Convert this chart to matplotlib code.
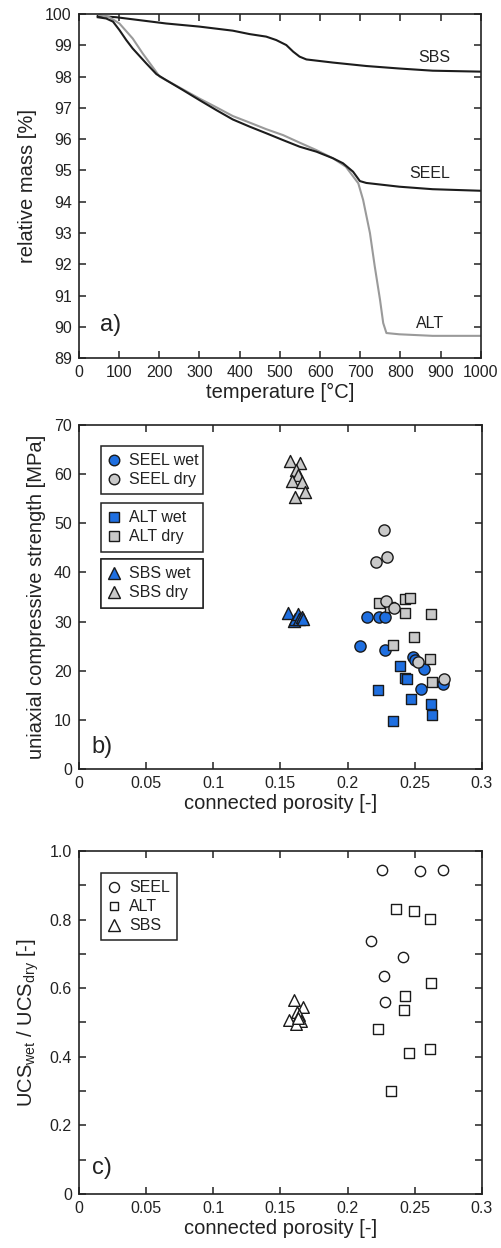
import matplotlib
matplotlib.use("Agg")
import matplotlib.pyplot as plt
from matplotlib.ticker import MultipleLocator
from matplotlib.lines import Line2D

plt.rcParams['font.family'] = ['Liberation Sans', 'DejaVu Sans']
plt.rcParams['mathtext.fontset'] = 'custom'
plt.rcParams['mathtext.rm'] = 'Liberation Sans'
plt.rcParams['text.color'] = '#222222'
plt.rcParams['axes.labelcolor'] = '#222222'
plt.rcParams['xtick.color'] = '#222222'
plt.rcParams['ytick.color'] = '#222222'

# ========== a) TGA curves ==========
sbs_T = [47, 93, 217, 300, 383, 425, 466, 491, 516, 533, 549, 566, 632, 715, 797, 880, 1000]
sbs_m = [99.94, 99.9, 99.7, 99.6, 99.47, 99.36, 99.28, 99.17, 99.01, 98.8, 98.64, 98.55,
         98.45, 98.34, 98.26, 98.19, 98.16]

seel_T = [47, 68, 85, 101, 118, 134, 168, 193, 217, 259, 300, 342, 383, 425, 466, 508,
          549, 591, 632, 657, 682, 699, 715, 797, 880, 1000]
seel_m = [99.9, 99.86, 99.76, 99.49, 99.17, 98.9, 98.42, 98.08, 97.89, 97.57, 97.25, 96.93,
          96.63, 96.4, 96.19, 95.97, 95.76, 95.6, 95.39, 95.23, 94.96, 94.66, 94.6, 94.48,
          94.4, 94.35]

alt_T = [51, 76, 101, 134, 159, 184, 201, 234, 300, 342, 383, 425, 466, 508, 549, 591,
         632, 664, 695, 707, 724, 736, 749, 757, 765, 797, 880, 1000]
alt_m = [99.97, 99.9, 99.7, 99.22, 98.74, 98.3, 98.0, 97.77, 97.3, 97.02, 96.74, 96.53,
         96.32, 96.13, 95.89, 95.65, 95.39, 95.12, 94.59, 94.06, 93.0, 91.93, 90.87, 90.12,
         89.8, 89.76, 89.71, 89.71]

# ========== b) UCS vs porosity ==========
seel_wet_phi = [0.2147, 0.2234, 0.2277, 0.2091, 0.2277, 0.2485, 0.2503, 0.2568, 0.2548, 0.2711]
seel_wet_ucs = [31.0, 31.0, 31.0, 25.1, 24.2, 22.7, 22.2, 20.3, 16.2, 17.3]
seel_dry_phi = [0.2272, 0.2209, 0.229, 0.2284, 0.2347, 0.2523, 0.2718]
seel_dry_ucs = [48.6, 42.2, 43.2, 34.1, 32.7, 21.7, 18.3]

alt_wet_phi = [0.2388, 0.2425, 0.2443, 0.223, 0.2475, 0.2618, 0.2625, 0.2338]
alt_wet_ucs = [20.9, 18.6, 18.3, 16.1, 14.3, 13.3, 10.9, 9.8]
alt_dry_phi = [0.2233, 0.2318, 0.243, 0.2463, 0.243, 0.2618, 0.2495, 0.2338, 0.2615, 0.2625]
alt_dry_ucs = [33.7, 32.9, 34.6, 34.8, 31.7, 31.5, 26.8, 25.3, 22.4, 17.7]

sbs_wet_phi = [0.156, 0.160, 0.161, 0.163, 0.164, 0.166, 0.167]
sbs_wet_ucs = [31.8, 30.1, 30.6, 31.5, 30.6, 30.9, 30.5]
sbs_dry_phi = [0.157, 0.1645, 0.1615, 0.163, 0.159, 0.166, 0.168, 0.161]
sbs_dry_ucs = [62.7, 62.3, 60.8, 59.9, 58.7, 58.4, 56.4, 55.3]

# ========== c) UCS ratio ==========
seel_r_phi = [0.2253, 0.254, 0.2708, 0.2175, 0.2413, 0.2268, 0.2275]
seel_r = [0.946, 0.941, 0.946, 0.737, 0.691, 0.635, 0.559]
alt_r_phi = [0.2358, 0.2493, 0.2613, 0.2623, 0.2428, 0.2423, 0.2225, 0.246, 0.2613, 0.2323]
alt_r = [0.830, 0.825, 0.803, 0.615, 0.577, 0.536, 0.482, 0.410, 0.422, 0.299]
sbs_r_phi = [0.160, 0.167, 0.1625, 0.164, 0.1565, 0.165, 0.1618, 0.163]
sbs_r = [0.565, 0.545, 0.532, 0.522, 0.508, 0.503, 0.495, 0.512]

por_ticks = [0, 0.05, 0.1, 0.15, 0.2, 0.25, 0.3]
por_labels = ['0', '0.05', '0.1', '0.15', '0.2', '0.25', '0.3']
ratio_ticks = [0, 0.2, 0.4, 0.6, 0.8, 1.0]
ratio_labels = ['0', '0.2', '0.4', '0.6', '0.8', '1.0']

blue = '#1f6fe0'
grey = '#c9c9c9'
edge = '#1a1a1a'
TICK_FS = 11.5
LAB_FS = 14.5


def style_axes(ax):
    for s in ax.spines.values():
        s.set_linewidth(1.2)
        s.set_color('#222222')
    ax.tick_params(which='both', direction='in', top=True, right=True,
                   length=5, width=1.1, labelsize=TICK_FS, pad=5)


fig = plt.figure(figsize=(5.02, 12.48), dpi=100)
ax1 = fig.add_axes([0.157, 0.7131, 0.801, 0.2756])
ax2 = fig.add_axes([0.157, 0.3838, 0.803, 0.2756])
ax3 = fig.add_axes([0.157, 0.0433, 0.803, 0.2748])

# ---- a)
ax1.plot(sbs_T, sbs_m, color='#1c1c1c', lw=1.5)
ax1.plot(alt_T, alt_m, color='#9a9a9a', lw=1.5)
ax1.plot(seel_T, seel_m, color='#1c1c1c', lw=1.5)
ax1.set_xlim(0, 1000)
ax1.set_ylim(89, 100)
ax1.xaxis.set_major_locator(MultipleLocator(100))
ax1.yaxis.set_major_locator(MultipleLocator(1))
ax1.set_xlabel('temperature [°C]', fontsize=LAB_FS, labelpad=2)
ax1.set_ylabel('relative mass [%]', fontsize=LAB_FS, labelpad=6)
ax1.text(885, 98.6, 'SBS', ha='center', va='center', fontsize=11.5)
ax1.text(873, 94.9, 'SEEL', ha='center', va='center', fontsize=11.5)
ax1.text(873, 90.1, 'ALT', ha='center', va='center', fontsize=11.5)
ax1.text(52, 90.05, 'a)', ha='left', va='center', fontsize=17)
style_axes(ax1)

# ---- b)
mk = dict(edgecolors=edge, linewidths=1.0)
ax2.scatter(seel_wet_phi, seel_wet_ucs, marker='o', s=65, c=blue, zorder=3, **mk)
ax2.scatter(alt_wet_phi, alt_wet_ucs, marker='s', s=48, c=blue, zorder=3, **mk)
ax2.scatter(sbs_wet_phi, sbs_wet_ucs, marker='^', s=75, c=blue, zorder=3, **mk)
ax2.scatter(alt_dry_phi, alt_dry_ucs, marker='s', s=48, c=grey, zorder=4, **mk)
ax2.scatter(seel_dry_phi, seel_dry_ucs, marker='o', s=65, c=grey, zorder=4, **mk)
ax2.scatter(sbs_dry_phi, sbs_dry_ucs, marker='^', s=75, c=grey, zorder=4, **mk)
ax2.set_xlim(0, 0.3)
ax2.set_ylim(0, 70)
ax2.set_xticks(por_ticks)
ax2.set_xticklabels(por_labels)
ax2.yaxis.set_major_locator(MultipleLocator(10))
ax2.set_xlabel('connected porosity [-]', fontsize=LAB_FS, labelpad=2)
ax2.set_ylabel('uniaxial compressive strength [MPa]', fontsize=LAB_FS, labelpad=6)
ax2.text(0.0095, 4.5, 'b)', ha='left', va='center', fontsize=17)
style_axes(ax2)


def handle(marker, fc, ms):
    return Line2D([], [], ls='none', marker=marker, markersize=ms,
                  markerfacecolor=fc, markeredgecolor=edge, markeredgewidth=1.0)


leg_kw = dict(loc='upper left', fontsize=11.5, frameon=True, fancybox=False,
              edgecolor='#222222', framealpha=1, borderaxespad=0,
              handlelength=0.8, handletextpad=0.5, borderpad=0.45,
              labelspacing=0.25)
groups = [
    ([handle('o', blue, 7.6), handle('o', grey, 7.6)], ['SEEL wet', 'SEEL dry'], 0.939),
    ([handle('s', blue, 6.6), handle('s', grey, 6.6)], ['ALT wet', 'ALT dry'], 0.773),
    ([handle('^', blue, 8.5), handle('^', grey, 8.5)], ['SBS wet', 'SBS dry'], 0.610),
]
for hs, labs, top in groups:
    lg = ax2.legend(hs, labs, bbox_to_anchor=(0.0546, top - 0.14, 0.253, 0.14),
                    mode='expand', **leg_kw)
    lg.get_frame().set_linewidth(1.1)
    ax2.add_artist(lg)

# ---- c)
ax3.scatter(seel_r_phi, seel_r, marker='o', s=55, facecolors='white', **mk)
ax3.scatter(alt_r_phi, alt_r, marker='s', s=44, facecolors='white', **mk)
ax3.scatter(sbs_r_phi, sbs_r, marker='^', s=70, facecolors='white', **mk)
ax3.set_xlim(0, 0.3)
ax3.set_ylim(0, 1.0)
ax3.set_xticks(por_ticks)
ax3.set_xticklabels(por_labels)
ax3.set_yticks(ratio_ticks)
ax3.set_yticklabels(ratio_labels)
ax3.yaxis.set_minor_locator(MultipleLocator(0.1))
ax3.set_xlabel('connected porosity [-]', fontsize=LAB_FS, labelpad=2)
ax3.set_ylabel('UCS$_{\\mathrm{wet}}$ / UCS$_{\\mathrm{dry}}$ [-]', fontsize=LAB_FS, labelpad=6)
ax3.text(0.0095, 0.075, 'c)', ha='left', va='center', fontsize=17)
style_axes(ax3)
lg = ax3.legend([handle('o', 'white', 7.2), handle('s', 'white', 6.4), handle('^', 'white', 8.2)],
                ['SEEL', 'ALT', 'SBS'], bbox_to_anchor=(0.0546, 0.936), **leg_kw)
lg.get_frame().set_linewidth(1.1)

fig.savefig('out.png', dpi=100)
